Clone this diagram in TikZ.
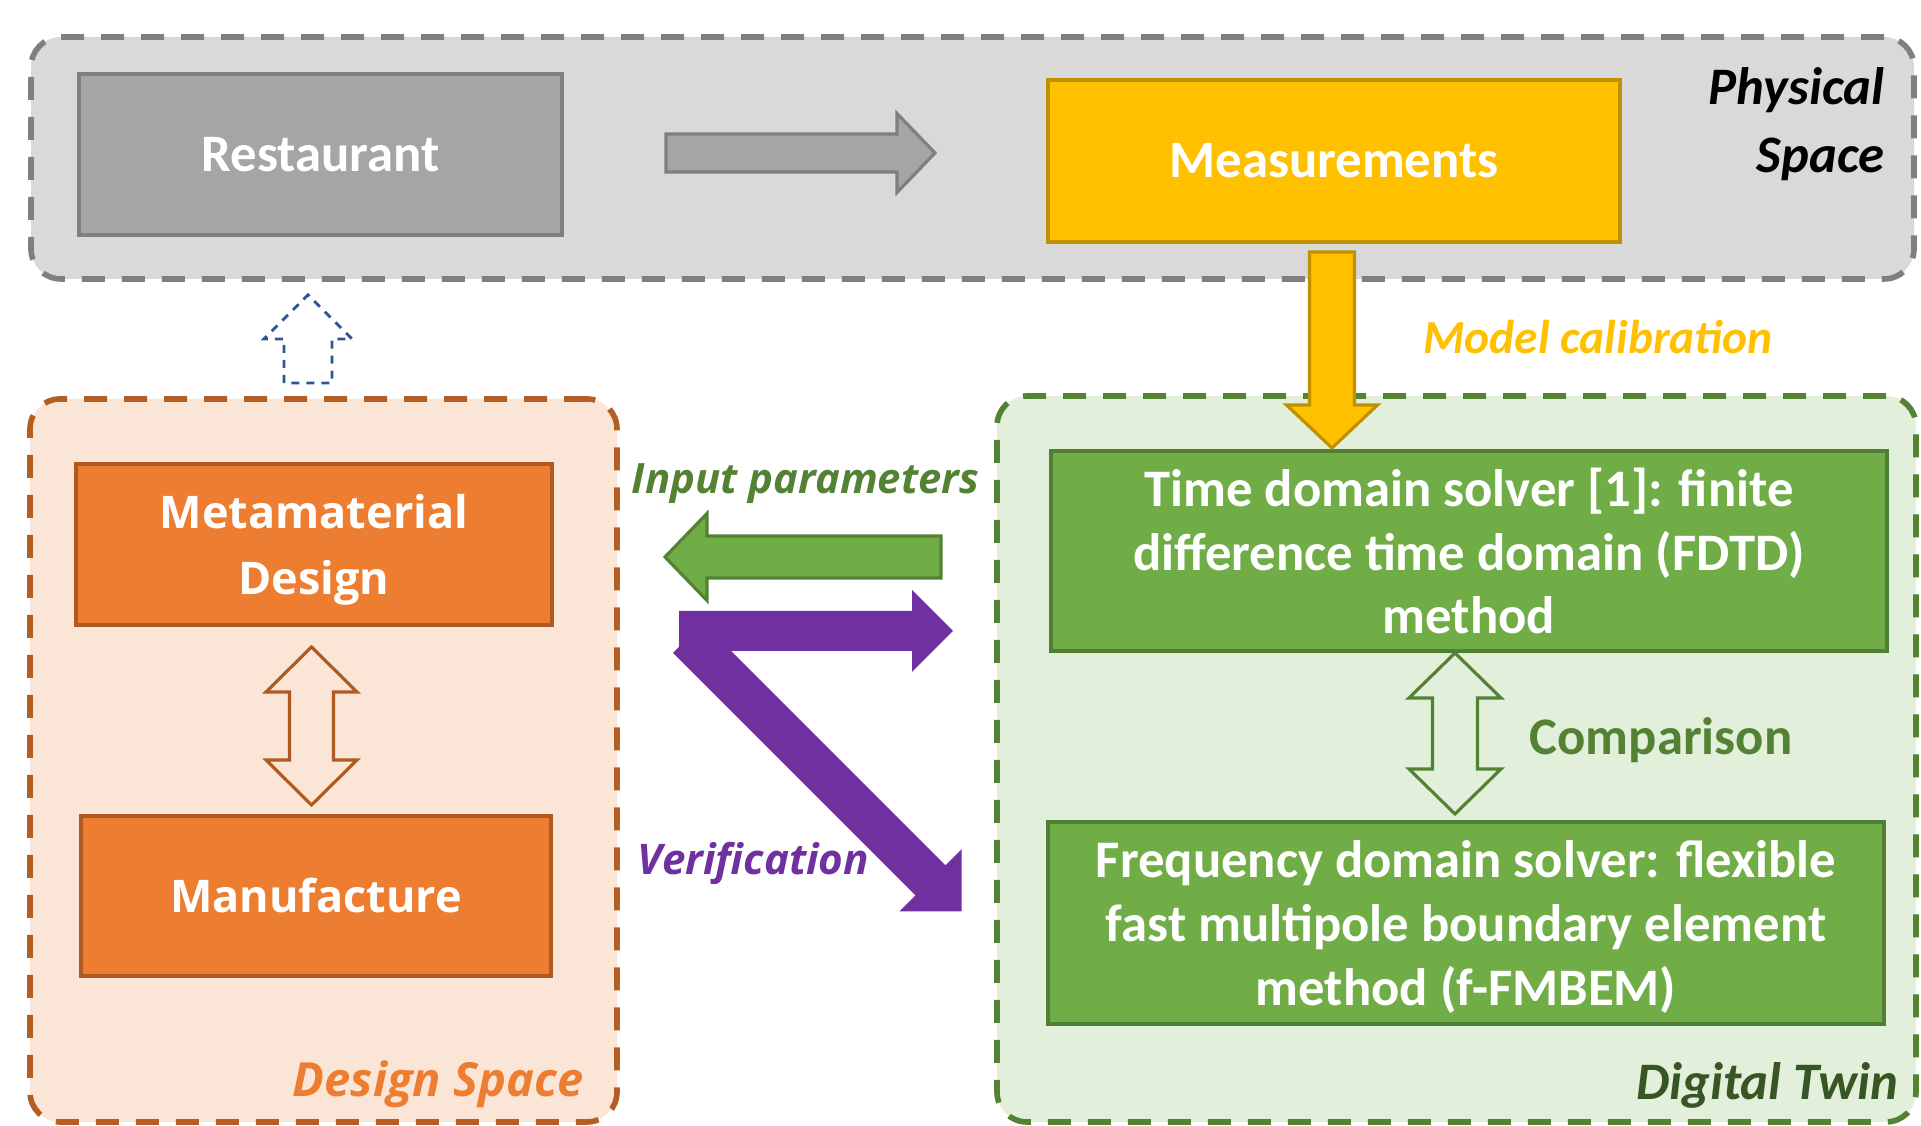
\documentclass[tikz,border=0pt]{standalone}
\usepackage{fontspec}
\setmainfont{Carlito}
\newfontfamily\segoe{Open Sans}

\definecolor{physfill}{HTML}{D9D9D9}
\definecolor{physline}{HTML}{7F7F7F}
\definecolor{restfill}{HTML}{A5A5A5}
\definecolor{measfill}{HTML}{FFC000}
\definecolor{measline}{HTML}{BF9000}
\definecolor{desfill}{HTML}{FBE5D6}
\definecolor{desline}{HTML}{B35F24}
\definecolor{metafill}{HTML}{ED7D31}
\definecolor{metaline}{HTML}{AE5A21}
\definecolor{twinfill}{HTML}{E2EFDA}
\definecolor{twinline}{HTML}{548235}
\definecolor{solvfill}{HTML}{70AD47}
\definecolor{solvline}{HTML}{507E32}
\definecolor{twintext}{HTML}{375623}
\definecolor{verifcol}{HTML}{7030A0}
\definecolor{upcol}{HTML}{2F5597}

\tikzset{
  spacebox/.style={rounded corners=0.3cm,line width=1.6pt,dash pattern=on 0.23cm off 0.17cm},
  blockbox/.style={draw,line width=0.9pt,inner sep=0pt,text=white,align=center,
    font=\bfseries\fontsize{15}{18.2}\selectfont},
  calibri/.style={font=\bfseries\fontsize{15}{19.3}\selectfont},
  segoebox/.style={font=\segoe\bfseries\fontsize{12.8}{18.7}\selectfont},
  blockarrow/.style={line width=0.9pt}
}

\begin{document}
\begin{tikzpicture}
\useasboundingbox (0,0) rectangle (19.21,11.26);

% spaces
\node[spacebox,draw=physline,fill=physfill,minimum width=18.83cm,minimum height=2.42cm] (physical) at (9.725,9.68) {};
\node[spacebox,draw=desline,fill=desfill,minimum width=5.87cm,minimum height=7.23cm] (design) at (3.235,3.655) {};
\node[spacebox,draw=twinline,fill=twinfill,minimum width=9.19cm,minimum height=7.26cm] (twin) at (14.565,3.67) {};

% physical space
\node[blockbox,draw=physline,fill=restfill,minimum width=4.83cm,minimum height=1.61cm] (restaurant) at (3.205,9.715) {Restaurant};
\node[blockbox,draw=measline,fill=measfill,minimum width=5.72cm,minimum height=1.62cm] (measure) at (13.34,9.65) {Measurements};
\node[font=\bfseries\itshape\fontsize{15}{19.3}\selectfont,inner sep=0pt,anchor=east,align=right] (physlabel) at (18.85,10.02) {Physical\\Space};
\draw[blockarrow,draw=physline,fill=restfill] (6.66,9.54) -- (8.97,9.54) -- (8.97,9.335) -- (9.35,9.73) -- (8.97,10.125) -- (8.97,9.92) -- (6.66,9.92) -- cycle;

% design space
\node[blockbox,segoebox,draw=metaline,fill=metafill,minimum width=4.76cm,minimum height=1.61cm] (meta) at (3.14,5.815) {Metamaterial\\\smash{Design}};
\node[blockbox,segoebox,draw=metaline,fill=metafill,minimum width=4.70cm,minimum height=1.60cm] (manu) at (3.16,2.30) {Manufacture};
\draw[blockarrow,draw=metaline] (3.115,4.79) -- (3.57,4.34) -- (3.335,4.34) -- (3.335,3.66) -- (3.57,3.66) -- (3.115,3.21) -- (2.66,3.66) -- (2.895,3.66) -- (2.895,4.34) -- (2.66,4.34) -- cycle;
\node[text=metafill,font=\segoe\bfseries\itshape\fontsize{13.4}{16}\selectfont,inner sep=0pt,anchor=east] (deslabel) at (5.84,0.42) {Design Space};
\draw[upcol,line width=0.8pt,dash pattern=on 0.08cm off 0.07cm] (2.84,7.43) -- (2.84,7.87) -- (2.64,7.87) -- (3.08,8.31) -- (3.52,7.87) -- (3.32,7.87) -- (3.32,7.43) -- cycle;

% digital twin
\node[blockbox,draw=solvline,fill=solvfill,minimum width=8.36cm,minimum height=2.0cm] (fdtd) at (14.69,5.75) {Time domain solver [1]: finite\\difference time domain (FDTD)\\method};
\node[blockbox,draw=solvline,fill=solvfill,minimum width=8.36cm,minimum height=2.02cm] (fmbem) at (14.66,2.03) {Frequency domain solver: flexible\\fast multipole boundary element\\\smash{method (f-FMBEM)}};
\draw[blockarrow,draw=twinline] (14.55,4.73) -- (15.01,4.28) -- (14.775,4.28) -- (14.775,3.57) -- (15.01,3.57) -- (14.55,3.12) -- (14.09,3.57) -- (14.325,3.57) -- (14.325,4.28) -- (14.09,4.28) -- cycle;
\node[calibri,text=twinline] (compare) at (16.61,3.86) {Comparison};
\node[font=\bfseries\itshape\fontsize{15}{18}\selectfont,text=twintext,inner sep=0pt,anchor=east] (twinlabel) at (18.99,0.41) {Digital Twin};

% calibration
\draw[blockarrow,draw=measline,fill=measfill] (13.095,8.74) -- (13.545,8.74) -- (13.545,7.21) -- (13.775,7.21) -- (13.32,6.78) -- (12.865,7.21) -- (13.095,7.21) -- cycle;
\node[text=measfill,font=\bfseries\itshape\fontsize{13.5}{16}\selectfont] (calib) at (15.98,7.89) {Model calibration};

% input parameters and verification
\draw[blockarrow,draw=twinline,fill=solvfill] (9.41,5.48) -- (7.07,5.48) -- (7.07,5.255) -- (6.65,5.69) -- (7.07,6.125) -- (7.07,5.90) -- (9.41,5.90) -- cycle;
\node[text=twinline,font=\segoe\bfseries\itshape\fontsize{11.9}{14}\selectfont] (inputlabel) at (8.055,6.42) {Input parameters};
\fill[verifcol] (6.79,5.15) -- (9.12,5.15) -- (9.12,5.36) -- (9.53,4.95) -- (9.12,4.54) -- (9.12,4.75) -- (7.31,4.75) -- (9.455,2.605) -- (9.615,2.765) -- (9.615,2.145) -- (8.995,2.145) -- (9.155,2.305) -- (6.73,4.73) -- (6.79,4.79) -- cycle;
\node[text=verifcol,font=\segoe\bfseries\itshape\fontsize{12}{14}\selectfont] (veriflabel) at (7.535,2.63) {Verification};
\end{tikzpicture}
\end{document}
